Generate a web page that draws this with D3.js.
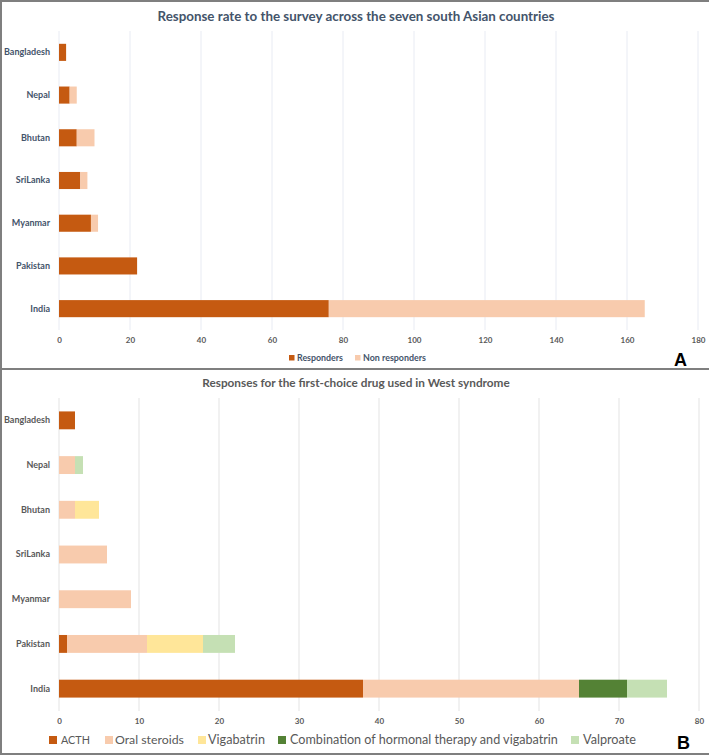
<!DOCTYPE html>
<html><head><meta charset="utf-8">
<script src="https://cdn.jsdelivr.net/npm/d3@7"></script>
<style>html,body{margin:0;padding:0;background:#fff;}svg{display:block;}</style>
</head><body>
<svg id="c" width="709" height="755"></svg>
<script>
const countries = ["Bangladesh","Nepal","Bhutan","SriLanka","Myanmar","Pakistan","India"];
const responders = [2,3,5,6,9,22,76];
const nonResponders = [0,2,5,2,2,0,89];
const ticksA = [0,20,40,60,80,100,120,140,160,180];

const drugNames = ["ACTH","Oral steroids","Vigabatrin","Combination of hormonal therapy and vigabatrin","Valproate"];
const acth = [2,0,0,0,0,1,38];
const oralSteroids = [0,2,2,6,9,10,27];
const vigabatrin = [0,0,3,0,0,7,0];
const combination = [0,0,0,0,0,0,6];
const valproate = [0,1,0,0,0,4,5];
const ticksB = [0,10,20,30,40,50,60,70,80];

const svg = d3.select("#c");
const FONT = "Lato, 'Liberation Sans', sans-serif";

// shrink font so the natural width matches a target width (no glyph stretching)
function fitText(sel, target, maxSize){
  const w = sel.node().getComputedTextLength();
  if (w > 0) sel.attr("font-size", Math.min(maxSize*1.15, maxSize * target / w));
}

function panel(opts){
  const {seriesNames, seriesVals, colors, xMax, ticks, yRange, title, titleY, titleLen, titleColor, labelColor, tickY} = opts;
  const x = d3.scaleLinear().domain([0,xMax]).range([59, 59 + (xMax===180?639:640)]);
  const y = d3.scaleBand().domain(countries).range(yRange).paddingInner(0.6).paddingOuter(0.3);
  const g = svg.append("g");
  g.append("g").selectAll("line").data(ticks).join("line")
    .attr("x1", d=>x(d)).attr("x2", d=>x(d))
    .attr("y1", yRange[0]).attr("y2", yRange[1])
    .attr("stroke", opts.gridColor).attr("stroke-width", 1);
  const rows = countries.map((c,i)=>{const o={country:c}; seriesNames.forEach((s,j)=>o[s]=seriesVals[j][i]); return o;});
  const stack = d3.stack().keys(seriesNames)(rows);
  stack.forEach((layer,j)=>{
    g.append("g").selectAll("rect").data(layer).join("rect")
      .attr("x", d=>x(d[0])).attr("width", d=>Math.max(0,x(d[1])-x(d[0])))
      .attr("y", d=>y(d.data.country)).attr("height", y.bandwidth())
      .attr("fill", colors[j]);
  });
  const ax = d3.axisBottom(x).tickValues(ticks).tickSize(0).tickPadding(0);
  const axg = g.append("g").attr("transform", `translate(0,${tickY})`).call(ax);
  axg.select(".domain").remove();
  axg.selectAll("text").attr("font-family", FONT).attr("font-size", 8).attr("fill", "#595959").attr("font-weight", "bold").attr("dy", "0.35em").attr("y", 0);
  const ay = d3.axisLeft(y).tickSize(0).tickPadding(0);
  const ayg = g.append("g").attr("transform", "translate(50,0)").call(ay);
  ayg.select(".domain").remove();
  ayg.selectAll("text").attr("font-family", FONT).attr("font-size", 9).attr("font-weight", "bold").attr("fill", labelColor);
  const t = g.append("text").attr("x", 356).attr("y", titleY).attr("text-anchor","middle").attr("dy","0.35em")
    .attr("font-family", FONT).attr("font-size", 13).attr("font-weight","bold").attr("fill", titleColor)
    .text(title);
  fitText(t, titleLen, 13);
  return g;
}

panel({seriesNames:["Responders","Non responders"], seriesVals:[responders, nonResponders],
  colors:["#C55A11","#F8CBAD"], xMax:180, ticks:ticksA, yRange:[31,330],
  title:"Response rate to the survey across the seven south Asian countries", titleY:16, titleLen:397,
  titleColor:"#44546A", labelColor:"#44546A", tickY:340, gridColor:"#E8EBF3"});

panel({seriesNames:drugNames, seriesVals:[acth, oralSteroids, vigabatrin, combination, valproate],
  colors:["#C55A11","#F8CBAD","#FFE699","#548235","#C5E0B4"], xMax:80, ticks:ticksB, yRange:[398,711],
  title:"Responses for the first-choice drug used  in West syndrome", titleY:383, titleLen:308,
  titleColor:"#595959", labelColor:"#595959", tickY:721, gridColor:"#E3E3E3"});

// Legend A
const legA = [
  {name:"Responders", color:"#C55A11", sx:289, tx:297, len:46},
  {name:"Non responders", color:"#F8CBAD", sx:355, tx:363, len:63}
];
const la = svg.append("g");
legA.forEach(d=>{
  la.append("rect").attr("x", d.sx).attr("y", 355).attr("width", 5.5).attr("height", 5.5).attr("fill", d.color);
  const t = la.append("text").attr("x", d.tx).attr("y", 358).attr("dy","0.35em").attr("font-family", FONT).attr("font-size", 9)
    .attr("font-weight","bold").attr("fill","#44546A").text(d.name);
  fitText(t, d.len, 9);
});

// Legend B
const legB = [
  {name:drugNames[0], color:"#C55A11", sx:49, tx:61, len:29},
  {name:drugNames[1], color:"#F8CBAD", sx:105, tx:115, len:69},
  {name:drugNames[2], color:"#FFE699", sx:198, tx:208, len:57},
  {name:drugNames[3], color:"#548235", sx:278, tx:290, len:268},
  {name:drugNames[4], color:"#C5E0B4", sx:571, tx:583, len:53}
];
const lb = svg.append("g");
legB.forEach(d=>{
  lb.append("rect").attr("x", d.sx).attr("y", 736).attr("width", 8).attr("height", 8).attr("fill", d.color);
  const t = lb.append("text").attr("x", d.tx).attr("y", 740).attr("dy","0.35em").attr("font-family", FONT).attr("font-size", 15)
    .attr("fill","#595959").text(d.name);
  fitText(t, d.len, 15);
});

svg.append("text").attr("x", 674).attr("y", 366).attr("font-family","'Liberation Sans', Arial, sans-serif").attr("font-size", 18).attr("font-weight","bold").attr("fill","#000").text("A");
svg.append("text").attr("x", 677).attr("y", 749).attr("font-family","'Liberation Sans', Arial, sans-serif").attr("font-size", 18).attr("font-weight","bold").attr("fill","#000").text("B");

const frame = svg.append("g").attr("stroke","#7F7F7F").attr("stroke-width",2);
frame.append("line").attr("x1",1).attr("x2",1).attr("y1",0).attr("y2",755);
frame.append("line").attr("x1",0).attr("x2",709).attr("y1",1).attr("y2",1);
frame.append("line").attr("x1",0).attr("x2",709).attr("y1",369).attr("y2",369);
frame.append("line").attr("x1",0).attr("x2",709).attr("y1",754).attr("y2",754);
</script>
</body></html>
